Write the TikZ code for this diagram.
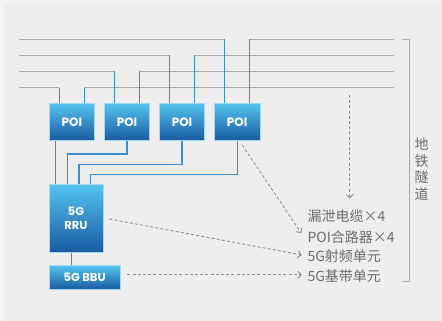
\documentclass[tikz,border=0pt]{standalone}
\usepackage{fontspec}
\setmainfont{Noto Sans CJK SC}
\newfontfamily\boxfont{Poppins}
\usetikzlibrary{arrows.meta,calc}
\definecolor{bg}{HTML}{EEEEEE}
\definecolor{bgedge}{HTML}{F4F4F4}
\definecolor{cablegray}{HTML}{A9A9A9}
\definecolor{feedblue}{HTML}{3A8ED3}
\definecolor{boxtop}{HTML}{55C4EE}
\definecolor{boxbot}{HTML}{1859A2}
\definecolor{boxrim}{HTML}{9ED8F2}
\definecolor{txtgray}{HTML}{6B6B6B}
\definecolor{dashgray}{HTML}{8C8C8C}
\tikzset{
  unitbox/.style={minimum width=45.5pt, minimum height=37.5pt, inner sep=0pt,
    top color=boxtop, bottom color=boxbot, draw=boxrim, line width=0.6pt,
    text=white, font=\boxfont\bfseries\fontsize{12}{13}\selectfont, align=center},
  cable/.style={draw=cablegray, line width=1.3pt},
  feeder/.style={draw=feedblue, line width=1.2pt},
  hint/.style={draw=dashgray, line width=0.9pt, dash pattern=on 3pt off 2.2pt,
    -{Straight Barb[length=3.5pt,width=7pt,line width=0.9pt]}},
  lbl/.style={anchor=west, inner sep=0pt, text=txtgray,
    font=\fontsize{14}{16}\selectfont},
}
\begin{document}
\begin{tikzpicture}[x=1pt,y=-1pt]
% canvas
\fill[bgedge] (0,0) rectangle (442,321);
\fill[bg] (4,3) rectangle (442,321);
\useasboundingbox (0,0) rectangle (442,321);

% units
\node[unitbox] (p1) at (71.9,122) {POI};
\node[unitbox] (p2) at (127,122) {POI};
\node[unitbox] (p3) at (182,122) {POI};
\node[unitbox] (p4) at (237.2,122) {POI};
\node[unitbox, minimum width=54pt, minimum height=68.4pt,
  font=\boxfont\bfseries\fontsize{11.5}{13.5}\selectfont] (rru) at (76,218.5) {5G\\RRU};
\node[unitbox, minimum width=71.3pt, minimum height=23.6pt,
  font=\boxfont\bfseries\fontsize{11.5}{13}\selectfont] (bbu) at (84.7,277.5) {5G BBU};

% leaky cable ends
\foreach \k/\y in {1/87.7,2/71.3,3/55.3,4/39.3}{
  \coordinate (w\k) at (19.3,\y);
  \coordinate (e\k) at (394,\y);
  \coordinate (a\k) at ($(p\k.north)+(-12.5,0)$);
  \coordinate (b\k) at ($(p\k.north)+(12.3,0)$);
}
% horizontal cable runs (drawn first so feeders sit on top)
\foreach \k in {1,2,3,4}{
  \draw[cable] (w\k) -- (w\k -| a\k);
  \draw[cable] (e\k) -- (e\k -| b\k);
}
\foreach \k in {1,2,3,4}{
  \draw[feeder] (w\k -| a\k) -- (a\k);
  \draw[feeder] (e\k -| b\k) -- (b\k);
}

% combiner outputs into the RRU
\coordinate (r1) at (55.7,184.3);
\coordinate (r2) at (67.7,184.3);
\coordinate (r3) at (79,184.3);
\coordinate (r4) at (90.3,184.3);
\draw[feeder] (p1.south -| r1) -- (r1);
\draw[feeder] (p2.south) |- (67.7,154) -- (r2);
\draw[feeder] (p3.south) |- (79,164.3) -- (r3);
\draw[feeder] (p4.south) |- (90.3,174.7) -- (r4);
\draw[feeder] (rru.south -| 71.7,0) -- (bbu.north -| 71.7,0);

% bracket for the tunnel
\coordinate (bt) at (402,39.3);
\coordinate (bb) at (402,281.7);
\draw[draw=cablegray, line width=1pt] (bt) -- ++(7.5,0) |- (bb);
\node[inner sep=0pt, text=txtgray, align=center,
  font=\fontsize{14}{16.5}\selectfont] (tunnel) at (421.7,169) {地\\铁\\隧\\道};

% legend
\node[lbl] (l1) at (307.3,216.3) {漏泄电缆×4};
\node[lbl] (l2) at (307.3,236.7) {POI合路器×4};
\node[lbl] (l3) at (307.3,256) {5G射频单元};
\node[lbl] (l4) at (307.3,276) {5G基带单元};

\coordinate (c1) at (349.7,95);
\coordinate (c2) at ($(p4.south east)+(-18,4)$);
\draw[hint] (c1) -- (c1 |- 0,198.5);
\draw[hint] (c2) -- ($(l2.west)+(-6,-3.5)$);
\draw[hint] ($(rru.east)+(6,0.5)$) -- ($(l3.west)+(-5.5,-1)$);
\draw[hint] ($(bbu.east)+(6.7,-2.8)$) -- ($(l4.west)+(-5.5,-1.3)$);
\end{tikzpicture}
\end{document}
